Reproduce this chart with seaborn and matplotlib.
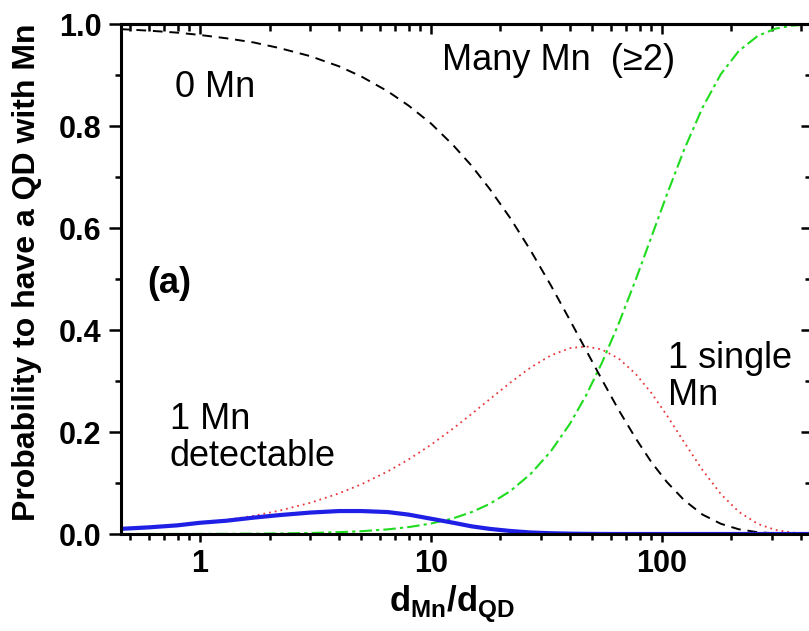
import numpy as np
import pandas as pd
import matplotlib
matplotlib.use("Agg")
import matplotlib.pyplot as plt
import seaborn as sns

# ---- data ----
x_ratio = [0.45, 0.6, 0.8, 1, 1.3, 1.7, 2.2, 3, 4, 5, 6.5, 8, 10, 12.5, 15, 18, 22, 27,
           33, 40, 47, 55, 65, 77, 90, 105, 125, 150, 180, 215, 260, 310, 370, 440]
p_zero = [0.990, 0.987, 0.983, 0.9785, 0.972, 0.964, 0.953, 0.937, 0.917, 0.897, 0.868,
          0.840, 0.805, 0.762, 0.722, 0.676, 0.620, 0.556, 0.488, 0.419, 0.360, 0.3025,
          0.243, 0.1875, 0.141, 0.102, 0.066, 0.038, 0.020, 0.0093, 0.0035, 0.0012,
          0.0003, 0.0001]
p_one = [0.0097, 0.0129, 0.0171, 0.0213, 0.0275, 0.0356, 0.0456, 0.0611, 0.0797, 0.0975,
         0.1227, 0.1461, 0.1749, 0.2071, 0.2354, 0.2646, 0.2964, 0.3264, 0.3501, 0.3645,
         0.3678, 0.3617, 0.3440, 0.3139, 0.2765, 0.2328, 0.1794, 0.1252, 0.0782, 0.0437,
         0.0198, 0.0080, 0.0026, 0.0007]
p_many = [0.00005, 0.00008, 0.00015, 0.0002, 0.0004, 0.0007, 0.0011, 0.0020, 0.0036,
          0.0055, 0.0091, 0.0135, 0.0205, 0.0308, 0.0429, 0.0592, 0.0838, 0.1176, 0.1619,
          0.2164, 0.2722, 0.3358, 0.4126, 0.4986, 0.5822, 0.6652, 0.7546, 0.8364, 0.9018,
          0.9470, 0.9767, 0.9909, 0.9971, 0.9993]
p_detect = [0.010, 0.013, 0.017, 0.022, 0.026, 0.032, 0.037, 0.042, 0.045, 0.045, 0.043,
            0.038, 0.030, 0.022, 0.015, 0.010, 0.006, 0.003, 0.0015, 0.0007, 0.0003,
            0.0001, 0, 0, 0, 0, 0, 0, 0, 0, 0, 0, 0, 0]

y_ticks = [0.0, 0.2, 0.4, 0.6, 0.8, 1.0]
y_ticklabels = ["0.0", "0.2", "0.4", "0.6", "0.8", "1.0"]
x_ticks = [1, 10, 100]
x_ticklabels = ["1", "10", "100"]

sns.set_theme(style="white")
plt.rcParams["font.family"] = ["Liberation Sans", "DejaVu Sans"]
plt.rcParams["mathtext.fontset"] = "custom"
plt.rcParams["mathtext.rm"] = "Liberation Sans"
plt.rcParams["mathtext.bf"] = "Liberation Sans:bold"
for k in ["text.color", "axes.labelcolor", "xtick.color", "ytick.color", "axes.edgecolor"]:
    plt.rcParams[k] = "black"

W, H = 809, 631
fig = plt.figure(figsize=(W / 100, H / 100), dpi=100)
fig.patch.set_facecolor("white")
ax = fig.add_axes([121 / W, 97 / H, 690 / W, 510 / H])
ax.set_facecolor("white")

df = pd.DataFrame({"x": x_ratio, "p0": p_zero, "p1": p_one, "pm": p_many, "pd": p_detect})

sns.lineplot(data=df, x="x", y="p1", ax=ax, color="#e8383d", lw=1.3,
             linestyle=(0, (1, 2.2)), estimator=None, sort=False)
sns.lineplot(data=df, x="x", y="pm", ax=ax, color="#1fdc1f", lw=1.5,
             linestyle=(0, (6, 2, 1.5, 2)), estimator=None, sort=False)
sns.lineplot(data=df, x="x", y="p0", ax=ax, color="black", lw=1.4,
             linestyle=(0, (5, 3.5)), estimator=None, sort=False)
sns.lineplot(data=df, x="x", y="pd", ax=ax, color="#1f1fe6", lw=3.0,
             linestyle="-", estimator=None, sort=False)

ax.set_xscale("log")
ax.set_xlim(0.455, 442)
ax.set_ylim(0, 1.0)

ax.set_yticks(y_ticks)
ax.set_yticklabels(y_ticklabels, fontsize=22, fontweight="bold", color="black")
ax.set_yticks(np.arange(0.1, 1.0, 0.2), minor=True)
ax.set_xticks(x_ticks)
ax.set_xticklabels(x_ticklabels, fontsize=22, fontweight="bold", color="black")
ax.xaxis.set_minor_locator(matplotlib.ticker.LogLocator(base=10, subs=np.arange(2, 10)))
ax.xaxis.set_minor_formatter(matplotlib.ticker.NullFormatter())

ax.tick_params(axis="y", which="major", direction="out", length=9, width=1.8, pad=5,
               left=True, right=False, colors="black")
ax.tick_params(axis="y", which="minor", direction="out", length=4, width=1.8,
               left=True, right=False)
ax.tick_params(axis="x", which="major", direction="out", length=6, width=1.8, pad=5,
               bottom=True, top=False, colors="black")
ax.tick_params(axis="x", which="minor", direction="out", length=4, width=1.8,
               bottom=True, top=False)

for s in ax.spines.values():
    s.set_linewidth(2.2)
    s.set_color("black")

# mirrored ticks (inward) on top and right
secx = ax.secondary_xaxis("top")
secx.set_xticks(x_ticks)
secx.xaxis.set_minor_locator(matplotlib.ticker.LogLocator(base=10, subs=np.arange(2, 10)))
secx.tick_params(axis="x", which="major", direction="in", length=7, width=1.8, labeltop=False)
secx.tick_params(axis="x", which="minor", direction="in", length=5, width=1.8, labeltop=False)
secx.xaxis.set_minor_formatter(matplotlib.ticker.NullFormatter())
secx.spines["top"].set_linewidth(2.2)

secy = ax.secondary_yaxis("right")
secy.set_yticks(y_ticks)
secy.set_yticks(np.arange(0.1, 1.0, 0.2), minor=True)
secy.tick_params(axis="y", which="major", direction="in", length=7, width=1.8, labelright=False)
secy.tick_params(axis="y", which="minor", direction="in", length=4, width=1.8, labelright=False)

ax.set_ylabel("Probability to have a QD with Mn", fontsize=23, fontweight="bold")
ax.yaxis.set_label_coords((27 - 121) / 690, (534 - 272) / 510)
ax.yaxis.label.set_va("center")
ax.set_xlabel(r"$\mathbf{d}_{\mathbf{Mn}}\mathbf{/d}_{\mathbf{QD}}$", fontsize=25)
ax.xaxis.set_label_coords((452 - 121) / 690, (534 - 604) / 510)
ax.xaxis.label.set_va("center")

ax.text(0.78, 0.875, "0 Mn", fontsize=26, va="center", ha="left")
ax.text(11.2, 0.929, "Many Mn  (\u22652)", fontsize=26, va="center", ha="left")
ax.text(0.59, 0.492, "(a)", fontsize=26, fontweight="bold", va="center", ha="left")
ax.text(106, 0.308, "1 single\nMn", fontsize=26, va="center", ha="left", linespacing=1.05)
ax.text(0.74, 0.188, "1 Mn\ndetectable", fontsize=26, va="center", ha="left", linespacing=1.05)

fig.savefig("out.png", dpi=100, facecolor="white")
